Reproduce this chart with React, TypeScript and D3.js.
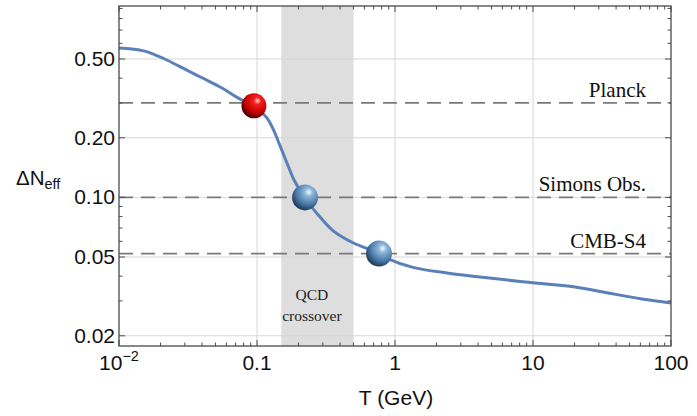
import React from 'react';
import * as d3 from 'd3';

// curve: temperature (GeV) vs Delta N_eff
const tempGeV = [0.01, 0.0124, 0.0154, 0.0182, 0.0215, 0.0286, 0.0399, 0.0558, 0.0728, 0.0951, 0.118, 0.131, 0.147, 0.165, 0.186, 0.223, 0.272, 0.355, 0.496, 0.766, 0.92, 1.35, 2.38, 4.13, 8.75, 20.2, 35, 61.7, 100];
const deltaNeff = [0.568, 0.562, 0.548, 0.525, 0.5, 0.452, 0.402, 0.357, 0.318, 0.287, 0.252, 0.221, 0.182, 0.149, 0.122, 0.099, 0.083, 0.068, 0.059, 0.0522, 0.0485, 0.0443, 0.0415, 0.0396, 0.0374, 0.0353, 0.0329, 0.0307, 0.0293];

// spheres on the curve
const markerT = [0.095, 0.223, 0.766];
const markerN = [0.29, 0.1, 0.052];
const markerKind = ['red', 'blue', 'blue'];

// experiment sensitivities (dashed lines)
const experiments = ['Planck', 'Simons Obs.', 'CMB-S4'];
const expValues = [0.3, 0.1, 0.052];

// QCD crossover band
const qcdBand = [0.15, 0.5];

const xTicks = [0.01, 0.1, 1, 10, 100];
const xTickLabels = ['10-2', '0.1', '1', '10', '100'];
const yTicks = [0.02, 0.05, 0.1, 0.2, 0.5];
const yTickLabels = ['0.02', '0.05', '0.10', '0.20', '0.50'];

const W = 697;
const H = 416;

export default function App() {
  const x = d3.scaleLog().domain([0.01, 100]).range([119, 671]);
  const y = d3.scaleLog().domain([0.01776, 0.926]).range([346, 6]);
  const [x0, x1] = x.range();
  const [y0, y1] = y.range();

  const pts = tempGeV.map((t, i) => [t, deltaNeff[i]] as [number, number]);
  const line = d3
    .line<[number, number]>()
    .x(d => x(d[0]))
    .y(d => y(d[1]))
    .curve(d3.curveCatmullRom.alpha(0.5));

  // minor ticks, 2..9 per decade
  const xMinor: number[] = [];
  for (let e = -2; e < 2; e++) {
    for (let m = 2; m <= 9; m++) xMinor.push(m * Math.pow(10, e));
  }
  const yMinor = [0.03, 0.04, 0.06, 0.07, 0.08, 0.09, 0.3, 0.4, 0.6, 0.7, 0.8, 0.9];

  const frame = '#4a4a4a';
  const sans = '"Liberation Sans", Arial, sans-serif';
  const serif = '"Liberation Serif", "Times New Roman", serif';

  return (
    <div style={{ position: 'fixed', left: 0, top: 0, width: W, height: H, background: '#fff' }}>
      <svg width={W} height={H}>
        <defs>
          <radialGradient id="ballRed" cx="0.64" cy="0.3" r="0.72">
            <stop offset="0" stopColor="#ffe0e0" />
            <stop offset="0.2" stopColor="#f52020" />
            <stop offset="0.65" stopColor="#c40000" />
            <stop offset="1" stopColor="#4a0000" />
          </radialGradient>
          <radialGradient id="ballBlue" cx="0.64" cy="0.3" r="0.72">
            <stop offset="0" stopColor="#f4fbff" />
            <stop offset="0.22" stopColor="#8cb6da" />
            <stop offset="0.65" stopColor="#4b7aa8" />
            <stop offset="1" stopColor="#1f3956" />
          </radialGradient>
        </defs>

        <rect x={x0} y={y1} width={x1 - x0} height={y0 - y1} fill="#fff" />

        {/* QCD band */}
        <rect
          x={x(qcdBand[0])}
          y={y1}
          width={x(qcdBand[1]) - x(qcdBand[0])}
          height={y0 - y1}
          fill="#dedede"
        />

        {/* grid */}
        {xTicks.slice(1, -1).map(t => (
          <line key={'gx' + t} x1={x(t)} x2={x(t)} y1={y1} y2={y0} stroke="#d6d6d6" strokeWidth={1} />
        ))}
        {yTicks.map(t => (
          <line key={'gy' + t} x1={x0} x2={x1} y1={y(t)} y2={y(t)} stroke="#d6d6d6" strokeWidth={1} />
        ))}

        <text x={x(0.25)} y={300} textAnchor="middle" fontFamily={serif} fontSize={15.5} fill="#222">QCD</text>
        <text x={x(0.25)} y={321} textAnchor="middle" fontFamily={serif} fontSize={15.5} fill="#222">crossover</text>

        {/* experiment lines */}
        {experiments.map((name, i) => (
          <g key={name}>
            <line
              x1={x0}
              x2={x1}
              y1={y(expValues[i])}
              y2={y(expValues[i])}
              stroke="#7a7a7a"
              strokeWidth={1.6}
              strokeDasharray="14 8"
            />
            <text
              x={646}
              y={y(expValues[i]) - 6}
              textAnchor="end"
              fontFamily={serif}
              fontSize={21}
              fill="#111"
            >
              {name}
            </text>
          </g>
        ))}

        {/* curve */}
        <path d={line(pts) || ''} fill="none" stroke="#5a80ba" strokeWidth={3} />

        {/* spheres */}
        {markerT.map((t, i) => (
          <circle
            key={'m' + i}
            cx={x(t)}
            cy={y(markerN[i])}
            r={markerKind[i] === 'red' ? 12.5 : 13}
            fill={markerKind[i] === 'red' ? 'url(#ballRed)' : 'url(#ballBlue)'}
          />
        ))}

        {/* frame */}
        <rect x={x0} y={y1} width={x1 - x0} height={y0 - y1} fill="none" stroke={frame} strokeWidth={1.3} />

        {/* ticks, inward on all four sides */}
        {xTicks.map(t => (
          <g key={'xt' + t}>
            <line x1={x(t)} x2={x(t)} y1={y0} y2={y0 - 6} stroke={frame} />
            <line x1={x(t)} x2={x(t)} y1={y1} y2={y1 + 6} stroke={frame} />
          </g>
        ))}
        {xMinor.map(t => (
          <g key={'xm' + t}>
            <line x1={x(t)} x2={x(t)} y1={y0} y2={y0 - 3.5} stroke={frame} />
            <line x1={x(t)} x2={x(t)} y1={y1} y2={y1 + 3.5} stroke={frame} />
          </g>
        ))}
        {yTicks.map(t => (
          <g key={'yt' + t}>
            <line x1={x0} x2={x0 + 6} y1={y(t)} y2={y(t)} stroke={frame} />
            <line x1={x1} x2={x1 - 6} y1={y(t)} y2={y(t)} stroke={frame} />
          </g>
        ))}
        {yMinor.map(t => (
          <g key={'ym' + t}>
            <line x1={x0} x2={x0 + 3.5} y1={y(t)} y2={y(t)} stroke={frame} />
            <line x1={x1} x2={x1 - 3.5} y1={y(t)} y2={y(t)} stroke={frame} />
          </g>
        ))}

        {/* tick labels */}
        {xTicks.map((t, i) =>
          xTickLabels[i] === '10-2' ? (
            <text key={'xl' + t} x={x(t)} y={370} textAnchor="middle" fontFamily={sans} fontSize={21} fill="#111">
              10
              <tspan dy={-9} fontSize={14.5}>−2</tspan>
            </text>
          ) : (
            <text key={'xl' + t} x={x(t)} y={370} textAnchor="middle" fontFamily={sans} fontSize={21} fill="#111">
              {xTickLabels[i]}
            </text>
          )
        )}
        {yTicks.map((t, i) => (
          <text key={'yl' + t} x={115} y={y(t) + 7} textAnchor="end" fontFamily={sans} fontSize={21} fill="#111">
            {yTickLabels[i]}
          </text>
        ))}

        {/* axis labels */}
        <text x={(x0 + x1) / 2 + 1} y={405} textAnchor="middle" fontFamily={sans} fontSize={21} fill="#111">
          T (GeV)
        </text>
        <text x={16} y={185} fontFamily={sans} fontSize={20.5} fill="#111">
          ΔN
          <tspan dy={4} fontSize={14.5}>eff</tspan>
        </text>
      </svg>
    </div>
  );
}
